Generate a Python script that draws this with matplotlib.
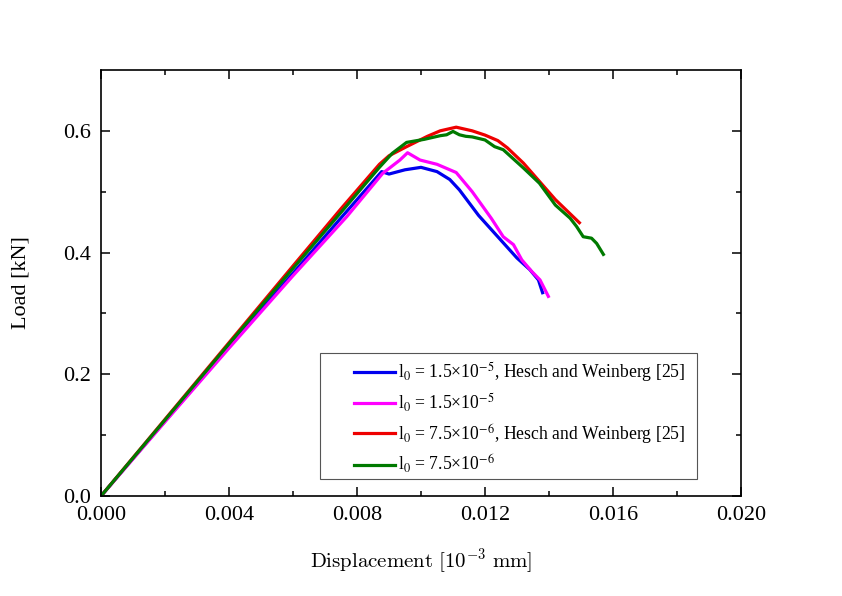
import numpy as np
import matplotlib.pyplot as plt
from matplotlib.font_manager import FontProperties
from matplotlib.patches import Rectangle

# Load-displacement data
disp_blue = [0, 0.002, 0.004, 0.006, 0.0075, 0.00877, 0.0090, 0.0095, 0.0100, 0.0105,
             0.0109, 0.0112, 0.0115, 0.0118, 0.0124, 0.0130, 0.0134, 0.01367, 0.0138]
load_blue = [0, 0.123, 0.246, 0.366, 0.457, 0.533, 0.529, 0.536, 0.540, 0.533,
             0.520, 0.503, 0.482, 0.461, 0.426, 0.391, 0.372, 0.355, 0.334]

disp_magenta = [0, 0.002, 0.004, 0.006, 0.00768, 0.0088, 0.00934, 0.00958, 0.00997, 0.0105,
                0.0109, 0.0111, 0.0116, 0.0122, 0.01257, 0.01289, 0.01315, 0.01346, 0.01372, 0.01398]
load_magenta = [0, 0.122, 0.243, 0.362, 0.459, 0.530, 0.552, 0.564, 0.552, 0.545,
                0.536, 0.5315, 0.500, 0.456, 0.426, 0.413, 0.388, 0.369, 0.355, 0.328]

disp_red = [0, 0.002, 0.004, 0.006, 0.0075, 0.0087, 0.0090, 0.00955, 0.0102, 0.0106,
            0.0111, 0.0116, 0.0120, 0.0124, 0.0127, 0.0132, 0.0137, 0.0142, 0.01495]
load_red = [0, 0.126, 0.252, 0.378, 0.472, 0.545, 0.559, 0.574, 0.591, 0.600,
            0.606, 0.600, 0.593, 0.584, 0.572, 0.547, 0.517, 0.487, 0.449]

disp_green = [0, 0.002, 0.004, 0.006, 0.0075, 0.0087, 0.0091, 0.00945, 0.00955, 0.0101,
              0.0106, 0.0108, 0.0110, 0.0112, 0.0114, 0.0116, 0.0120, 0.0123, 0.01257, 0.0132,
              0.0137, 0.0142, 0.01466, 0.01486, 0.01507, 0.01533, 0.01549, 0.0157]
load_green = [0, 0.125, 0.250, 0.374, 0.466, 0.540, 0.563, 0.577, 0.581, 0.586,
              0.592, 0.5935, 0.599, 0.5935, 0.591, 0.590, 0.585, 0.574, 0.569, 0.539,
              0.514, 0.478, 0.4565, 0.443, 0.426, 0.4236, 0.415, 0.397]

labels = ['l$_0$ = 1.5×10$^{-5}$, Hesch and Weinberg [25]',
          'l$_0$ = 1.5×10$^{-5}$',
          'l$_0$ = 7.5×10$^{-6}$, Hesch and Weinberg [25]',
          'l$_0$ = 7.5×10$^{-6}$']

plt.rcParams['font.family'] = ['Liberation Serif', 'DejaVu Serif']
plt.rcParams['mathtext.fontset'] = 'stix'

fig = plt.figure(figsize=(8.42, 5.96), dpi=100)
ax = fig.add_axes([0.12, 0.1678, 0.76, 0.7148])

ax.plot(disp_blue, load_blue, color='#0000ee', lw=2.3, label=labels[0])
ax.plot(disp_magenta, load_magenta, color='#ff00ff', lw=2.3, label=labels[1])
ax.plot(disp_red, load_red, color='#ee0000', lw=2.3, label=labels[2])
ax.plot(disp_green, load_green, color='#007a00', lw=2.3, label=labels[3])

ax.set_xlim(0, 0.02)
ax.set_ylim(0, 0.7)
ax.set_xticks(np.arange(0, 0.0201, 0.004))
ax.set_xticks(np.arange(0.002, 0.02, 0.004), minor=True)
ax.set_yticks([0.0, 0.2, 0.4, 0.6])
ax.set_yticks([0.1, 0.3, 0.5], minor=True)
ax.set_xticklabels(['0.000', '0.004', '0.008', '0.012', '0.016', '0.020'])
ax.set_yticklabels(['0.0', '0.2', '0.4', '0.6'])
ax.tick_params(which='both', direction='in', top=True, right=True, labelsize=16, width=1.1)
ax.tick_params(which='major', length=6.5, pad=7)
ax.tick_params(which='minor', length=3.6)
for s in ax.spines.values():
    s.set_linewidth(1.2)

ax.set_ylabel('Load [kN]', fontsize=16, labelpad=24)
ax.set_xlabel(r'$\mathrm{Displacement\ [10^{-3}\ mm]}$', fontsize=15, labelpad=16,
              math_fontfamily='cm')

# legend box drawn separately (wide left margin in the original)
ax.add_patch(Rectangle((0.342, 0.040), 0.589, 0.296, transform=ax.transAxes,
                       facecolor='white', edgecolor='#555555', lw=0.8, zorder=4))
leg = ax.legend(loc='lower right', bbox_to_anchor=(0.922, 0.034),
                prop=FontProperties(family='Liberation Serif', size=12.7),
                frameon=False, handlelength=2.3, handletextpad=0.15,
                borderpad=0.35, labelspacing=0.42, borderaxespad=0)
leg.set_zorder(5)

fig.savefig('out.png', dpi=100)
